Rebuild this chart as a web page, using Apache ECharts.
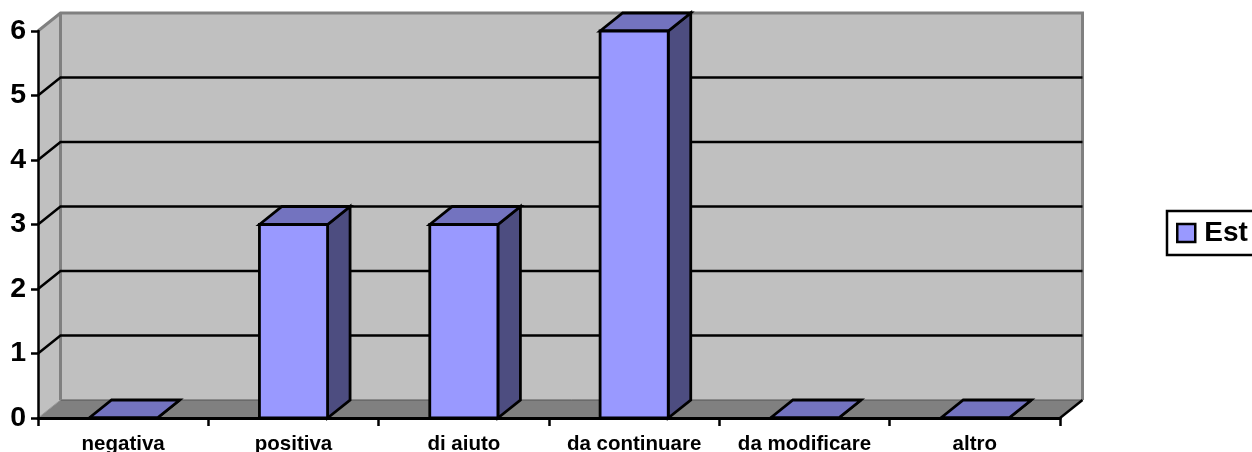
<!DOCTYPE html>
<html><head><meta charset="utf-8">
<style>html,body{margin:0;padding:0;background:#fff}#c{width:1252px;height:452px}</style>
<script src="https://cdn.jsdelivr.net/npm/echarts@6/dist/echarts.min.js"></script>
</head><body><div id="c"></div>
<script>
const categories = ['negativa','positiva','di aiuto','da continuare','da modificare','altro'];
const seriesName = 'Est';
const estValues = [0,3,3,6,0,0];
const gridValues = [1,2,3,4,5];
const depthX = 22.5, depthY = -18;
const barShare = 0.4;
const font = '"Liberation Sans", Arial, sans-serif';

const chart = echarts.init(document.getElementById('c'), null, {renderer:'canvas'});
const poly = (pts, fill, stroke, w) => ({type:'polygon', shape:{points:pts},
  style:{fill:fill, stroke:stroke||null, lineWidth:w||0, lineJoin:'miter'}});
const line = (pts, stroke, w) => ({type:'polyline', shape:{points:pts},
  style:{fill:null, stroke:stroke, lineWidth:w, lineJoin:'miter'}});

function renderWalls(params, api){
  const c = params.coordSys, x0=c.x, x1=c.x+c.width, yT=c.y, yB=c.y+c.height;
  const bx0=x0+depthX, bx1=x1+depthX, byT=yT+depthY, byB=yB+depthY;
  return {type:'group', children:[
    poly([[bx0,byT],[bx1,byT],[bx1,byB],[bx0,byB]], '#C0C0C0'),
    poly([[x0,yB],[bx0,byB],[bx0,byT],[x0,yT]], '#C0C0C0'),
    poly([[x0,yB],[bx0,byB],[bx1,byB],[x1,yB]], '#808080'),
    line([[bx0,byB],[bx1,byB]], '#555555', 1),
    line([[x0,yT],[bx0,byT],[bx1,byT],[bx1,byB]], '#808080', 3),
    line([[bx0,byT],[bx0,byB]], '#808080', 3),
    line([[x0,yB],[bx0,byB]], '#999999', 1),
    line([[x1,yB],[bx1,byB]], '#000000', 2.5)
  ]};
}
function renderGrid(params, api){
  const c = params.coordSys;
  const y = api.coord([0, api.value(1)])[1];
  return line([[c.x,y],[c.x+depthX,y+depthY],[c.x+c.width+depthX,y+depthY]], '#000000', 2.5);
}
function renderBar(params, api){
  const p = api.coord([api.value(0), api.value(1)]);
  const b = api.coord([api.value(0), 0]);
  const w = api.size([1,0])[0]*barShare;
  const l=p[0]-w/2, r=p[0]+w/2, t=p[1], y0=b[1];
  const kids=[];
  kids.push(poly([[r,y0],[r+depthX,y0+depthY],[r+depthX,t+depthY],[r,t]], '#4D4D80', '#000', 2.8));
  kids.push(poly([[l,t],[l+depthX,t+depthY],[r+depthX,t+depthY],[r,t]], '#7373BF', '#000', 2.8));
  kids.push(poly([[l,y0],[l,t],[r,t],[r,y0]], '#9999FF', '#000', 2.8));
  return {type:'group', children:kids};
}

chart.setOption({
  animation:false,
  backgroundColor:'#fff',
  textStyle:{fontFamily:font},
  legend:{
    data:[seriesName], left:1167, top:211, orient:'vertical',
    padding:[8,70,8,9], borderColor:'#000', borderWidth:2.5, backgroundColor:'#fff',
    itemWidth:18, itemHeight:18, itemGap:0, icon:'rect',
    itemStyle:{color:'#9999FF', borderColor:'#000', borderWidth:2.5},
    textStyle:{fontFamily:font, fontWeight:'bold', fontSize:28, color:'#000', padding:[0,0,0,4]}
  },
  grid:{left:38, right:192, top:31, bottom:34, containLabel:false, outerBoundsMode:'none'},
  xAxis:{type:'category', data:categories, z:5,
    axisLine:{show:true, lineStyle:{color:'#000', width:3}},
    axisTick:{show:true, alignWithLabel:false, length:8, lineStyle:{color:'#000', width:2.5}},
    axisLabel:{interval:0, margin:16, fontFamily:font, fontWeight:'bold', fontSize:20.5, color:'#000'},
    splitLine:{show:false}},
  yAxis:{type:'value', min:0, max:6, interval:1, z:5,
    axisLine:{show:true, lineStyle:{color:'#000', width:2.5}},
    axisTick:{show:true, length:7, lineStyle:{color:'#000', width:2.5}},
    axisLabel:{margin:12, fontFamily:font, fontWeight:'bold', fontSize:28.5, color:'#000'},
    splitLine:{show:false}},
  series:[
    {type:'custom', name:'walls', data:[[0,0]], renderItem:renderWalls, z:1, silent:true, clip:false},
    {type:'custom', name:'grid', data:gridValues.map(v=>[0,v]), encode:{x:0,y:1}, renderItem:renderGrid, z:2, silent:true, clip:false},
    {type:'custom', name:seriesName, data:estValues.map((v,i)=>[i,v]), encode:{x:0,y:1}, renderItem:renderBar, z:3, clip:false,
      itemStyle:{color:'#9999FF'}}
  ]
});
</script></body></html>
